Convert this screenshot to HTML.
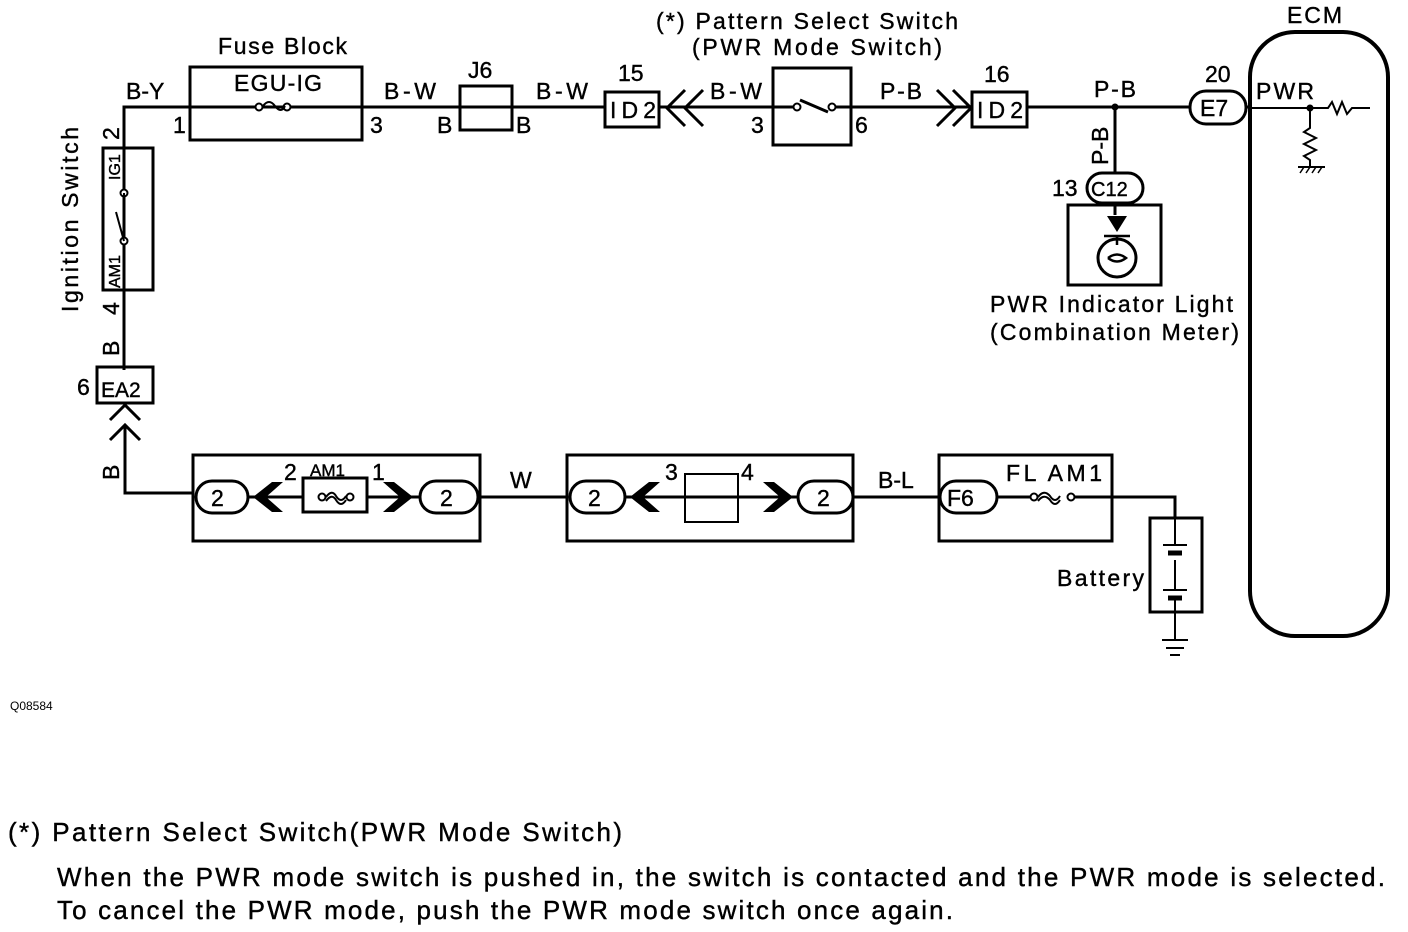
<!DOCTYPE html>
<html><head><meta charset="utf-8"><style>
html,body{margin:0;padding:0;background:#fff;}
svg{display:block;font-family:"Liberation Sans",sans-serif;}
</style></head><body>
<svg width="1408" height="932" viewBox="0 0 1408 932" xmlns="http://www.w3.org/2000/svg">
<g fill="none" stroke="#000" stroke-width="3">
<path d="M124 370 V107 H605"/>
<path d="M659 107 H773"/>
<path d="M851 107 H972"/>
<path d="M1027 107 H1190"/>
<path d="M1115 107 V173"/>
<path d="M1246 107 H1250"/>
<rect x="103" y="148" width="50" height="142"/>
<rect x="190" y="67" width="172" height="73"/>
<rect x="460" y="86" width="52" height="44"/>
<rect x="605" y="92" width="54" height="35"/>
<path d="M685 90 L667 108 L685 126 M703 90 L685 108 L703 126"/>
<rect x="773" y="68" width="78" height="77" fill="#fff"/>
<path d="M773 107 H797 M832 107 H851"/>
<path d="M800 100 L828 112"/>
<path d="M937 90 L955 108 L937 126 M953 90 L971 108 L953 126"/>
<rect x="972" y="92" width="55" height="35"/>
<rect x="1190" y="91" width="56" height="33" rx="16" fill="#fff"/>
<rect x="1087" y="173" width="56" height="30" rx="15" fill="#fff"/>
<rect x="1068" y="205" width="93" height="80"/>
<rect x="1250" y="32" width="138" height="604" rx="45" stroke-width="4"/>
<path d="M1250 108 H1328 l4 -6 l5 12 l5 -12 l5 12 l5 -6 H1370" stroke-width="2"/>
<path d="M1310 108 V128 l-6 4 l12 6 l-12 6 l12 6 l-12 6 l6 4 V167 M1298 167 H1325" stroke-width="2"/>
<path d="M1300 173 l4 -6 M1306 173 l4 -6 M1312 173 l4 -6 M1318 173 l4 -6" stroke-width="1.5"/>
<path d="M1115 203 V215"/>
<circle cx="1117" cy="258" r="19" stroke-width="3"/>
<path d="M1104 236 H1130 M1117 236 V245 M1108 258 q9 -7 18 0 q-9 7 -18 0" stroke-width="2.5"/>
<rect x="97" y="367" width="56" height="36"/>
<path d="M110 420 L125 405 L140 420 M110 440 L125 425 L140 440"/>
<path d="M125 425 V493 H193"/>
<rect x="193" y="455" width="287" height="86"/>
<rect x="567" y="455" width="286" height="86"/>
<rect x="939" y="455" width="173" height="86"/>
<path d="M248 497 H303 M367 497 H420 M480 497 H567 M625 497 H798 M853 497 H939 M997 497 H1030 M1075 497 H1175 V518"/>
<rect x="303" y="478" width="64" height="34"/>
<rect x="685" y="474" width="53" height="48" stroke-width="2"/>
<rect x="196" y="481" width="52" height="32" rx="16"/>
<rect x="420" y="481" width="58" height="32" rx="16"/>
<rect x="570" y="481" width="55" height="32" rx="16"/>
<rect x="798" y="481" width="55" height="32" rx="16"/>
<rect x="940" y="481" width="57" height="32" rx="16"/>
<rect x="1150" y="518" width="52" height="94"/>
<path d="M1175 518 V545 M1175 560 V590 M1175 600 V640 M1162 640 H1188 M1166 648 H1184 M1170 655 H1180" stroke-width="2"/>
<path d="M1163 545 H1187 M1163 590 H1187" stroke-width="2"/>
<path d="M1168 553 H1182 M1168 598 H1182" stroke-width="5"/>
</g>
<g fill="#000">
<path d="M1107 216 H1127 L1117 232 Z"/>
<circle cx="1115" cy="107" r="3.5"/>
<circle cx="1310" cy="108" r="3.5"/>
<path d="M253 497 L272 482 H283 L266 497 L283 512 H272 Z"/>
<path d="M413 497 L394 482 H383 L400 497 L383 512 H394 Z"/>
<path d="M630 497 L649 482 H660 L643 497 L660 512 H649 Z"/>
<path d="M793 497 L774 482 H763 L780 497 L763 512 H774 Z"/>
</g>
<g fill="#fff" stroke="#000" stroke-width="2">
<circle cx="259" cy="107" r="3.5"/><circle cx="287" cy="107" r="3.5"/>
<circle cx="797" cy="107" r="3.5"/><circle cx="832" cy="107" r="3.5"/>
<circle cx="124" cy="193" r="3.5"/><circle cx="124" cy="241" r="3.5"/>
<circle cx="322" cy="497" r="3.5"/><circle cx="350" cy="497" r="3.5"/>
<circle cx="1034" cy="497" r="3.5"/><circle cx="1071" cy="497" r="3.5"/>
</g>
<g fill="none" stroke="#000" stroke-width="2">
<path d="M263 106 q6 -8 12 0 q6 8 10 0"/>
<path d="M124 193 V200 M124 241 L116 212"/>
<path d="M326 497 q6 -8 10 -1 q5 8 10 0 M326 501 q6 -8 10 -1 q5 8 10 0"/>
<path d="M1038 497 q6 -8 12 -1 q5 8 10 0 M1038 501 q6 -8 12 -1 q5 8 10 0"/>
</g>
<g font-size="23" fill="#000" stroke="#000" stroke-width="0.4">
<text x="218" y="54" textLength="129">Fuse Block</text>
<text x="234" y="91" textLength="88">EGU-IG</text>
<text x="126" y="99">B-Y</text>
<text x="173" y="133">1</text>
<text x="370" y="133">3</text>
<text x="384" y="99" textLength="52">B-W</text>
<text x="468" y="78">J6</text>
<text x="536" y="99" textLength="52">B-W</text>
<text x="437" y="133">B</text>
<text x="516" y="133">B</text>
<text x="618" y="81">15</text>
<text x="610" y="118" textLength="46">ID2</text>
<text x="710" y="99" textLength="52">B-W</text>
<text x="751" y="133">3</text>
<text x="855" y="133">6</text>
<text x="880" y="99" textLength="42">P-B</text>
<text x="656" y="29" textLength="302">(*) Pattern Select Switch</text>
<text x="692" y="55" textLength="250">(PWR Mode Switch)</text>
<text x="984" y="82">16</text>
<text x="977" y="118" textLength="46">ID2</text>
<text x="1094" y="97" textLength="42">P-B</text>
<text x="1205" y="82">20</text>
<text x="1200" y="116">E7</text>
<text x="1256" y="99" textLength="58">PWR</text>
<text x="1287" y="23" textLength="55">ECM</text>
<text x="1052" y="196">13</text>
<text x="1091" y="196" font-size="20">C12</text>
<text x="990" y="312" textLength="243">PWR Indicator Light</text>
<text x="990" y="340" textLength="249">(Combination Meter)</text>
<text x="101" y="397" font-size="21">EA2</text>
<text x="77" y="395">6</text>
<text x="510" y="488">W</text>
<text x="878" y="488">B-L</text>
<text x="947" y="506">F6</text>
<text x="1006" y="481" textLength="96">FL AM1</text>
<text x="1057" y="586" textLength="87">Battery</text>
<text x="211" y="506">2</text><text x="440" y="506">2</text>
<text x="588" y="506">2</text><text x="817" y="506">2</text>
<text x="284" y="480">2</text><text x="372" y="480">1</text>
<text x="310" y="476" font-size="17">AM1</text>
<text x="665" y="480">3</text><text x="741" y="480">4</text>
<text transform="translate(78 312) rotate(-90)" textLength="185">Ignition Switch</text>
<text transform="translate(119 140) rotate(-90)">2</text>
<text transform="translate(119 315) rotate(-90)">4</text>
<text transform="translate(119 356) rotate(-90)">B</text>
<text transform="translate(119 480) rotate(-90)">B</text>
<text transform="translate(1108 165) rotate(-90)">P-B</text>
<text transform="translate(120 180) rotate(-90)" font-size="16">IG1</text>
<text transform="translate(120 288) rotate(-90)" font-size="16">AM1</text>
<text x="10" y="710" font-size="12" stroke-width="0">Q08584</text>
</g>
<g font-size="26" fill="#000" stroke="#000" stroke-width="0.4">
<text x="8" y="841" textLength="614">(*) Pattern Select Switch(PWR Mode Switch)</text>
<text x="57" y="886" textLength="1328">When the PWR mode switch is pushed in, the switch is contacted and the PWR mode is selected.</text>
<text x="57" y="919" textLength="896">To cancel the PWR mode, push the PWR mode switch once again.</text>
</g>
</svg>
</body></html>
